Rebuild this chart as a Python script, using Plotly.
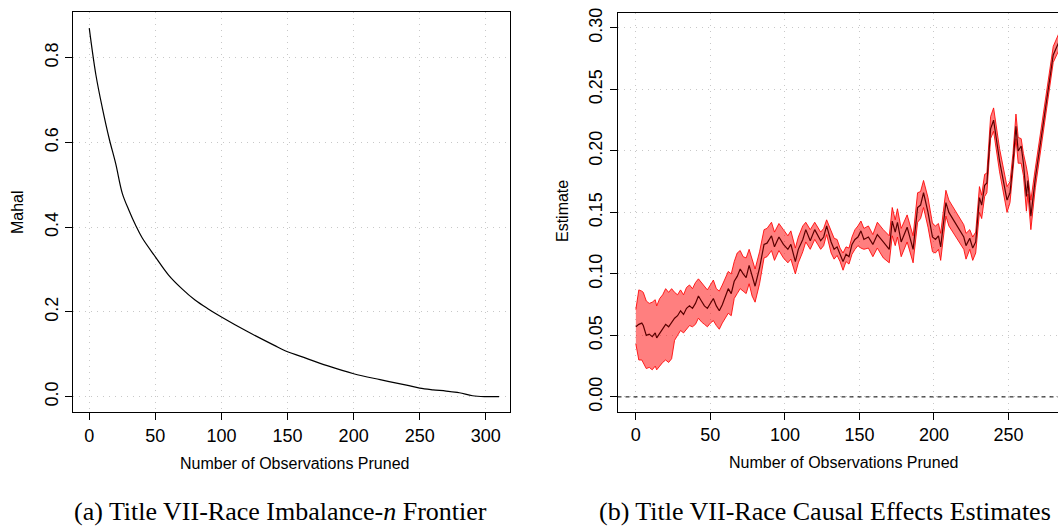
import plotly.graph_objects as go

W, H = 1058, 531

# ---- Left panel: imbalance-n frontier ----
mahal_x = [0, 5, 10, 15, 20, 25, 30, 35, 40, 50, 60, 70, 80, 90, 100, 120, 140, 150,
           160, 180, 200, 220, 240, 250, 260, 270, 280, 290, 300, 310]
mahal_y = [0.87, 0.76, 0.68, 0.61, 0.55, 0.48, 0.44, 0.405, 0.375, 0.33, 0.287, 0.255,
           0.228, 0.207, 0.188, 0.153, 0.121, 0.106, 0.095, 0.073, 0.054, 0.040, 0.027,
           0.020, 0.016, 0.013, 0.009, 0.002, 0.0, 0.0]

# ---- Right panel: causal effect estimates with band ----
est_x = [0, 2, 4, 5, 7, 9, 11, 13, 14, 16, 18, 20, 22, 24, 26, 28, 30, 32, 34, 36, 38, 40,
         42, 44, 46, 48, 50, 52, 54, 56, 58, 60, 62, 64, 66, 68, 70, 72, 74, 76, 78, 80,
         83, 86, 88, 91, 93, 96, 99, 102, 104, 107, 109, 112, 114, 117, 120, 122, 124,
         126, 128, 131, 133, 135, 137, 139, 141, 143, 145, 147, 149, 151, 153, 156, 159,
         162, 166, 170, 172, 174, 175.5, 178, 182, 186, 189, 191, 193, 196, 199, 201,
         203, 204.5, 208, 210, 220, 221.5, 224, 226, 228, 230.5, 232, 234, 235.5, 238,
         240, 244, 249, 251, 253, 255, 256.5, 258.5, 260, 262, 263, 265, 268, 280, 285]
est_y = [0.057, 0.059, 0.060, 0.058, 0.050, 0.051, 0.049, 0.052, 0.048, 0.052, 0.055,
         0.059, 0.057, 0.061, 0.064, 0.066, 0.070, 0.067, 0.072, 0.074, 0.072, 0.076,
         0.082, 0.078, 0.074, 0.072, 0.076, 0.080, 0.074, 0.070, 0.075, 0.082, 0.088,
         0.084, 0.094, 0.098, 0.104, 0.100, 0.097, 0.107, 0.098, 0.090, 0.105, 0.124,
         0.125, 0.131, 0.122, 0.130, 0.124, 0.120, 0.124, 0.110, 0.120, 0.128, 0.136,
         0.127, 0.136, 0.131, 0.127, 0.130, 0.139, 0.126, 0.120, 0.122, 0.116, 0.110,
         0.116, 0.114, 0.124, 0.128, 0.130, 0.135, 0.128, 0.130, 0.124, 0.132, 0.126,
         0.120, 0.143, 0.134, 0.142, 0.126, 0.138, 0.120, 0.154, 0.156, 0.166, 0.150,
         0.130, 0.128, 0.131, 0.122, 0.158, 0.150, 0.130, 0.123, 0.129, 0.121, 0.126,
         0.162, 0.156, 0.172, 0.174, 0.218, 0.225, 0.192, 0.160, 0.166, 0.190, 0.220,
         0.200, 0.204, 0.190, 0.163, 0.176, 0.147, 0.178, 0.278, 0.292]
lo_y = [0.043, 0.030, 0.030, 0.028, 0.023, 0.024, 0.022, 0.025, 0.022, 0.025, 0.028,
        0.030, 0.028, 0.031, 0.046, 0.050, 0.054, 0.052, 0.055, 0.058, 0.057, 0.059,
        0.064, 0.061, 0.059, 0.057, 0.060, 0.062, 0.058, 0.055, 0.060, 0.064, 0.068,
        0.066, 0.080, 0.084, 0.088, 0.086, 0.084, 0.092, 0.082, 0.077, 0.092, 0.113,
        0.114, 0.119, 0.111, 0.119, 0.113, 0.109, 0.112, 0.100, 0.109, 0.118, 0.126,
        0.120, 0.128, 0.124, 0.120, 0.123, 0.132, 0.117, 0.112, 0.115, 0.110, 0.103,
        0.110, 0.108, 0.116, 0.120, 0.123, 0.121, 0.120, 0.121, 0.114, 0.121, 0.113,
        0.109, 0.131, 0.123, 0.130, 0.114, 0.126, 0.109, 0.142, 0.145, 0.154, 0.138,
        0.118, 0.117, 0.120, 0.111, 0.147, 0.139, 0.120, 0.112, 0.120, 0.111, 0.117,
        0.150, 0.145, 0.163, 0.166, 0.210, 0.216, 0.183, 0.150, 0.158, 0.182, 0.210,
        0.190, 0.190, 0.180, 0.151, 0.165, 0.136, 0.170, 0.272, 0.285]
hi_y = [0.071, 0.087, 0.086, 0.085, 0.078, 0.076, 0.077, 0.079, 0.074, 0.080, 0.083,
        0.088, 0.085, 0.088, 0.085, 0.083, 0.087, 0.083, 0.089, 0.091, 0.088, 0.093,
        0.096, 0.093, 0.090, 0.087, 0.091, 0.095, 0.088, 0.086, 0.091, 0.097, 0.102,
        0.100, 0.110, 0.117, 0.119, 0.114, 0.113, 0.120, 0.112, 0.104, 0.118, 0.136,
        0.137, 0.142, 0.134, 0.141, 0.136, 0.131, 0.135, 0.121, 0.130, 0.139, 0.142,
        0.136, 0.142, 0.138, 0.134, 0.137, 0.144, 0.135, 0.129, 0.128, 0.121, 0.117,
        0.122, 0.121, 0.130, 0.136, 0.139, 0.143, 0.137, 0.139, 0.132, 0.142, 0.136,
        0.131, 0.154, 0.144, 0.153, 0.137, 0.148, 0.131, 0.166, 0.167, 0.176, 0.162,
        0.141, 0.139, 0.141, 0.133, 0.168, 0.160, 0.140, 0.133, 0.136, 0.130, 0.134,
        0.171, 0.164, 0.181, 0.182, 0.228, 0.235, 0.202, 0.171, 0.175, 0.198, 0.230,
        0.211, 0.210, 0.198, 0.187, 0.180, 0.160, 0.186, 0.285, 0.299]

left_xticks = [0, 50, 100, 150, 200, 250, 300]
left_yticks = [0.0, 0.2, 0.4, 0.6, 0.8]
right_xticks = [0, 50, 100, 150, 200, 250, 300]
right_yticks = [0.00, 0.05, 0.10, 0.15, 0.20, 0.25, 0.30]

FONT = "Liberation Sans"
SERIF = "Liberation Serif"


def px(x):
    return x / W


def py(y):
    return 1 - y / H


fig = go.Figure()

fig.add_trace(go.Scatter(x=mahal_x, y=mahal_y, mode="lines",
                         line=dict(color="black", width=1.2), xaxis="x", yaxis="y",
                         showlegend=False, line_shape="spline"))

fig.add_trace(go.Scatter(x=est_x, y=lo_y, mode="lines",
                         line=dict(color="rgba(255,0,0,0.85)", width=1),
                         xaxis="x2", yaxis="y2", showlegend=False))
fig.add_trace(go.Scatter(x=est_x, y=hi_y, mode="lines", fill="tonexty",
                         fillcolor="rgba(255,0,0,0.5)",
                         line=dict(color="rgba(255,0,0,0.85)", width=1),
                         xaxis="x2", yaxis="y2", showlegend=False))
fig.add_trace(go.Scatter(x=est_x, y=est_y, mode="lines",
                         line=dict(color="#5a0000", width=1.2),
                         xaxis="x2", yaxis="y2", showlegend=False))

common_axis = dict(showline=True, linecolor="black", linewidth=1, ticks="outside",
                   ticklen=7, tickcolor="black", tickwidth=1, showgrid=True,
                   gridcolor="#c8c8c8", griddash="1px,5px", gridwidth=1.3, zeroline=False,
                   tickfont=dict(family=FONT, size=18, color="black"))

fig.update_layout(
    width=W, height=H,
    margin=dict(l=0, r=0, t=0, b=0),
    paper_bgcolor="white", plot_bgcolor="white",
    xaxis=dict(common_axis, domain=[px(73), px(510)], range=[-12.3, 318.3],
               tickvals=left_xticks, mirror=True, anchor="y"),
    yaxis=dict(common_axis, domain=[py(411), py(7.3)], range=[-0.0367, 0.9076],
               tickvals=left_yticks, ticktext=["%.1f" % v for v in left_yticks],
               tickangle=-90, mirror=True, anchor="x"),
    xaxis2=dict(common_axis, domain=[px(617.5), 1.0], range=[-12.3, 283.2],
                tickvals=right_xticks, mirror=True, anchor="y2"),
    yaxis2=dict(common_axis, domain=[py(410.5), py(8.3)], range=[-0.012, 0.312],
                tickvals=right_yticks, ticktext=["%.2f" % v for v in right_yticks],
                tickangle=-90, mirror=False, anchor="x2"),
)

# dashed zero reference line on right panel
fig.add_shape(type="line", xref="x2 domain", x0=0, x1=1, yref="y2", y0=0, y1=0,
              line=dict(color="black", width=1, dash="4px,4px"))

ann = []
ann.append(dict(text="Mahal", x=px(17), y=py(209), textangle=-90))
ann.append(dict(text="Estimate", x=px(562), y=py(208), textangle=-90))
ann.append(dict(text="Number of Observations Pruned", x=px(294), y=py(463)))
ann.append(dict(text="Number of Observations Pruned", x=px(843), y=py(462)))
for a in ann:
    a.update(xref="paper", yref="paper", showarrow=False, xanchor="center",
             yanchor="middle", font=dict(family=FONT, size=16, color="black"))
    fig.add_annotation(**a)

fig.add_annotation(text="(a) Title VII-Race Imbalance-<i>n</i> Frontier", x=px(72),
                   y=py(511), xref="paper", yref="paper", showarrow=False,
                   xanchor="left", yanchor="middle",
                   font=dict(family=SERIF, size=26, color="black"))
fig.add_annotation(text="(b) Title VII-Race Causal Effects Estimates", x=px(597),
                   y=py(511), xref="paper", yref="paper", showarrow=False,
                   xanchor="left", yanchor="middle",
                   font=dict(family=SERIF, size=26, color="black"))

fig.write_html("out.html", config={"displayModeBar": False},
               post_script="document.body.style.margin='0';document.body.style.overflow='hidden';")
